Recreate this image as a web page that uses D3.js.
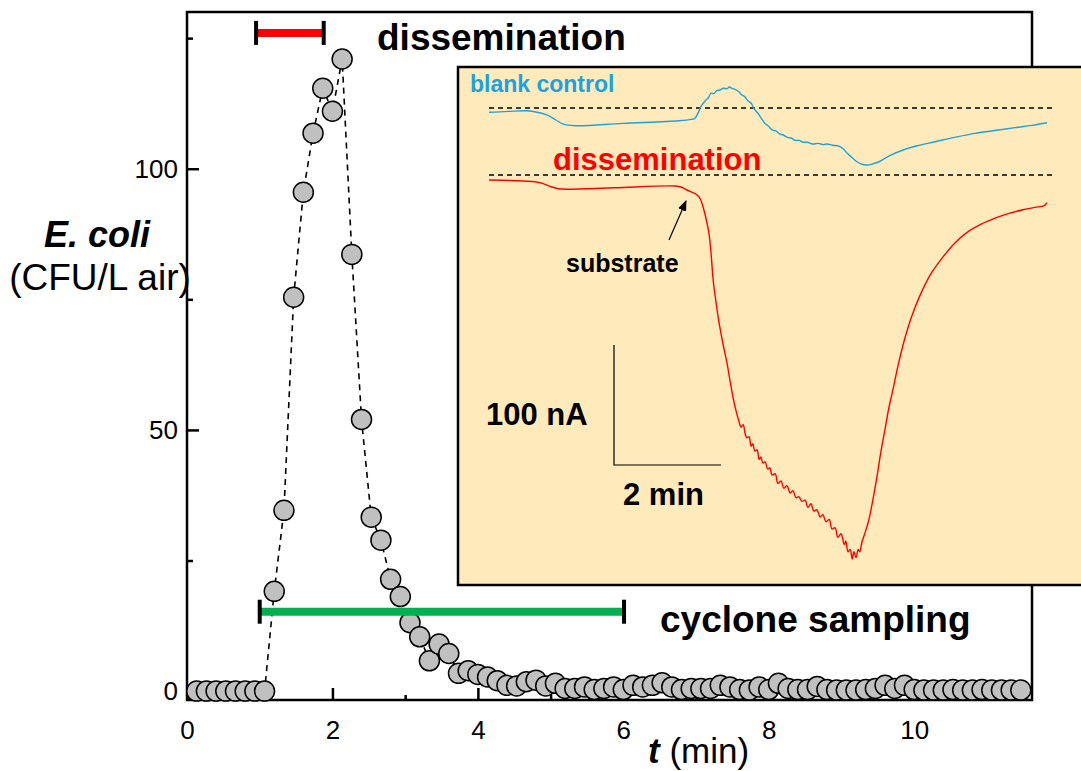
<!DOCTYPE html>
<html>
<head>
<meta charset="utf-8">
<script src="https://cdn.jsdelivr.net/npm/d3@7"></script>
<style>
  body { margin: 0; background: #fff; }
  svg { display: block; font-family: "Liberation Sans", Arial, sans-serif; }
</style>
</head>
<body>
<div id="chart"></div>
<script>
// sampling times (s) and airborne E. coli (CFU/L air)
const times = [8, 16, 24, 32, 40, 48, 56, 64, 72, 80, 88, 96, 104, 112, 120, 128, 136, 144, 152, 160,
  168, 176, 184, 192, 200, 208, 216, 224, 232, 240, 248, 256, 264, 272, 280, 288, 296, 304, 312, 320,
  328, 336, 344, 352, 360, 368, 376, 384, 392, 400, 408, 416, 424, 432, 440, 448, 456, 464, 472, 480,
  488, 496, 504, 512, 520, 528, 536, 544, 552, 560, 568, 576, 584, 592, 600, 608, 616, 624, 632, 640,
  648, 656, 664, 672, 680, 688];
const counts = [0, 0, 0, 0, 0, 0, 0, 0, 19.1, 34.6, 75.4, 95.5, 106.8, 115.4, 111, 121, 83.6, 52, 33.3, 28.9,
  21.4, 18.1, 13.1, 10.4, 5.8, 9.0, 7.2, 3.4, 3.9, 3.2, 2.7, 2.0, 1.1, 1.0, 1.8, 2.1, 1.0, 1.5, 0.5, 0.5,
  0.8, 0.3, 0.5, 0.8, 0.3, 1.1, 0.8, 1.1, 1.6, 0.8, 0.3, 0.5, 0.5, 0.5, 1.1, 0.8, 0.3, 0.2, 0.8, 0.3,
  1.5, 0.5, 0.3, 0.3, 0.9, 0.3, 0.2, 0.2, 0.2, 0.3, 0.5, 1.1, 0.5, 1.1, 0.3, 0.2, 0.2, 0.2, 0.3, 0.2,
  0.2, 0.3, 0.2, 0.2, 0.2, 0.2];

const xTicks = [0, 2, 4, 6, 8, 10];
const xMinor = [1, 3, 5, 7, 9, 11];
const yTicks = [0, 50, 100];
const yMinor = [25, 75, 125];

// time windows (min)
const dissemination = [0.95, 1.88];
const cycloneSampling = [1.0, 6.01];

// inset amperometric traces: [min, nA] relative to each dashed baseline
const blankTrace = [[0, -3.6], [0.35, -2.8], [0.71, -2.3], [0.9, -3.5], [1.08, -5.8], [1.25, -10], [1.38, -13.3],
  [1.61, -14.8], [2.5, -12.8], [3.55, -10.6], [3.78, -9.5], [3.85, -8.6], [3.92, -3], [3.96, 1.1], [4.05, 6.5],
  [4.1, 8.5], [4.15, 12.3], [4.2, 12], [4.26, 14.5], [4.32, 15], [4.38, 16.5], [4.45, 16], [4.49, 17.5],
  [4.55, 16.2], [4.6, 15.5], [4.67, 13.6], [4.72, 11], [4.78, 9.5], [4.84, 6], [4.9, 3.9], [4.96, -1],
  [5.02, -4], [5.08, -8], [5.16, -12.8], [5.22, -15], [5.3, -18.5], [5.36, -19], [5.43, -21.5], [5.5, -22.5],
  [5.58, -24.5], [5.65, -25], [5.72, -27], [5.8, -27], [5.87, -28.5], [5.95, -28.5], [6.05, -30], [6.15, -29.5],
  [6.25, -30.5], [6.32, -30], [6.42, -31], [6.54, -31.7], [6.62, -34], [6.7, -38], [6.77, -40.6], [6.85, -44],
  [6.95, -46.5], [7.07, -47.5], [7.18, -46.5], [7.29, -44.8], [7.5, -39.5], [7.74, -35], [8.0, -31.5],
  [8.34, -28.1], [8.7, -24.5], [9.08, -21.1], [9.45, -18.8], [9.83, -16.4], [10.15, -14.5], [10.43, -12.3]];
const dissTrace = [[0, -4.2], [0.4, -4.6], [0.86, -5.6], [1.0, -7], [1.16, -9.8], [1.3, -11.5], [1.46, -11.9],
  [2.36, -10.6], [3.48, -9.2], [3.6, -10.2], [3.7, -12.5], [3.8, -14.5], [3.89, -16.7], [3.95, -20], [4.0, -26.4],
  [4.05, -35], [4.11, -48.3], [4.15, -65], [4.19, -87.5], [4.24, -105], [4.3, -123], [4.37, -140], [4.45, -157],
  [4.5, -170], [4.56, -185], [4.62, -197], [4.67, -205], [4.71, -210], [4.75, -208], [4.79, -216], [4.82, -219],
  [4.86, -218], [4.90, -226], [4.93, -224], [4.97, -230], [5.01, -229], [5.05, -237], [5.08, -235], [5.12, -240],
  [5.16, -239], [5.21, -245], [5.25, -244], [5.29, -250], [5.35, -249], [5.40, -257], [5.46, -255], [5.51, -261],
  [5.57, -259], [5.63, -265], [5.68, -263], [5.74, -269], [5.79, -268], [5.85, -272], [5.91, -271], [5.96, -277],
  [6.02, -274], [6.07, -280], [6.13, -279], [6.19, -285], [6.24, -283], [6.30, -289], [6.36, -287], [6.41, -295],
  [6.47, -294], [6.52, -302], [6.58, -299], [6.64, -308], [6.67, -305], [6.71, -314], [6.75, -312], [6.79, -320],
  [6.82, -314], [6.86, -319], [6.90, -312], [6.93, -314], [6.97, -306], [7.03, -298], [7.1, -287.5], [7.17, -272],
  [7.25, -252], [7.32, -232], [7.4, -212.5], [7.47, -195], [7.55, -179], [7.66, -156], [7.78, -135], [7.9, -118],
  [8.04, -102], [8.25, -83], [8.49, -68], [8.7, -57], [8.93, -48], [9.2, -41], [9.46, -36], [9.72, -32],
  [9.98, -29], [10.2, -27], [10.38, -25.5], [10.43, -23]];

const W = 1081, H = 771;
const plot = { left: 187, right: 1032, top: 12, bottom: 700 };

const svg = d3.select("#chart").append("svg")
  .attr("width", W)
  .attr("height", H);

const x = d3.scaleLinear().domain([0, 11.62]).range([plot.left, plot.right]);
const y = d3.scaleLinear().domain([-1.7, 130]).range([plot.bottom, plot.top]);

function txt(g, px, py, s, size, opts = {}) {
  return g.append("text")
    .attr("x", px).attr("y", py)
    .attr("font-size", size)
    .attr("font-weight", opts.bold ? "bold" : null)
    .attr("font-style", opts.italic ? "italic" : null)
    .attr("fill", opts.color || "#000")
    .attr("text-anchor", opts.anchor || "start")
    .text(s);
}

// axes, ticks point inwards
const gx = svg.append("g").attr("transform", `translate(0,${plot.bottom})`);
gx.call(d3.axisBottom(x).tickValues(xTicks).tickSize(-12).tickSizeOuter(0).tickPadding(21));
gx.append("g").call(d3.axisBottom(x).tickValues(xMinor).tickSize(-5).tickSizeOuter(0).tickFormat(""));
const gy = svg.append("g").attr("transform", `translate(${plot.left},0)`);
gy.call(d3.axisLeft(y).tickValues(yTicks).tickSize(-12).tickSizeOuter(0).tickPadding(9));
gy.append("g").call(d3.axisLeft(y).tickValues(yMinor).tickSize(-6).tickSizeOuter(0).tickFormat(""));
svg.selectAll(".domain").remove();
svg.selectAll(".tick line").attr("stroke", "#000").attr("stroke-width", 2.5);
svg.selectAll(".tick text")
  .attr("font-size", 26)
  .attr("font-family", "Liberation Sans, Arial, sans-serif")
  .attr("fill", "#000");

svg.append("rect")
  .attr("x", plot.left).attr("y", plot.top)
  .attr("width", plot.right - plot.left).attr("height", plot.bottom - plot.top)
  .attr("fill", "none").attr("stroke", "#000").attr("stroke-width", 2.5);

// axis titles
txt(svg, 97, 247, "E. coli", 36, { bold: true, italic: true, anchor: "middle" });
txt(svg, 100, 290, "(CFU/L air)", 37, { anchor: "middle" });
const xt = svg.append("text").attr("x", 648).attr("y", 763).attr("font-size", 35);
xt.append("tspan").attr("font-weight", "bold").attr("font-style", "italic").text("t");
xt.append("tspan").text(" (min)");

// data
const pts = times.map((t, i) => ({ t: t / 60, v: counts[i] }));
svg.append("path")
  .datum(pts)
  .attr("fill", "none")
  .attr("stroke", "#000")
  .attr("stroke-width", 1.6)
  .attr("stroke-dasharray", "6,5")
  .attr("d", d3.line().x(d => x(d.t)).y(d => y(d.v)));

svg.append("g").selectAll("circle")
  .data(pts)
  .join("circle")
  .attr("cx", d => x(d.t))
  .attr("cy", d => y(d.v))
  .attr("r", 10)
  .attr("fill", "#c0c0c0")
  .attr("stroke", "#000")
  .attr("stroke-width", 1.5);

// time window bars
function windowBar(range, level, color) {
  const g = svg.append("g");
  g.append("line")
    .attr("x1", x(range[0])).attr("x2", x(range[1]))
    .attr("y1", y(level)).attr("y2", y(level))
    .attr("stroke", color).attr("stroke-width", 8);
  g.selectAll("rect").data(range).join("rect")
    .attr("x", d => x(d) - 2).attr("y", y(level) - 12)
    .attr("width", 4).attr("height", 24)
    .attr("fill", "#000");
}
windowBar(dissemination, 126, "#ff0000");
windowBar(cycloneSampling, 15.2, "#00b050");
txt(svg, 377, 50, "dissemination", 37, { bold: true });
txt(svg, 660, 632, "cyclone sampling", 37, { bold: true });

// inset
const inset = svg.append("g");
inset.append("rect")
  .attr("x", 458).attr("y", 67)
  .attr("width", 660).attr("height", 518)
  .attr("fill", "#ffeabc")
  .attr("stroke", "#000").attr("stroke-width", 2.5);

const ix = d3.scaleLinear().domain([0, 2]).range([489, 596]);
const iyBlank = d3.scaleLinear().domain([0, -100]).range([108, 228]);
const iyDiss = d3.scaleLinear().domain([0, -100]).range([175, 295]);

[iyBlank, iyDiss].forEach(sc => {
  inset.append("line")
    .attr("x1", ix(0)).attr("x2", ix(10.54))
    .attr("y1", sc(0)).attr("y2", sc(0))
    .attr("stroke", "#000").attr("stroke-width", 1.5)
    .attr("stroke-dasharray", "5,4");
});

inset.append("path")
  .datum(blankTrace)
  .attr("fill", "none").attr("stroke", "#1ba3e0").attr("stroke-width", 1.4)
  .attr("d", d3.line().x(d => ix(d[0])).y(d => iyBlank(d[1])).curve(d3.curveCatmullRom));
inset.append("path")
  .datum(dissTrace)
  .attr("fill", "none").attr("stroke", "#ff0000").attr("stroke-width", 1.4)
  .attr("d", d3.line().x(d => ix(d[0])).y(d => iyDiss(d[1])).curve(d3.curveCatmullRom));

txt(inset, 470, 92, "blank control", 23, { bold: true, color: "#1ba3e0" });
txt(inset, 553, 170, "dissemination", 31, { bold: true, color: "#ff0000" });
txt(inset, 566, 272, "substrate", 25, { bold: true });

svg.append("defs").append("marker")
  .attr("id", "head")
  .attr("viewBox", "0 0 10 10")
  .attr("refX", 9).attr("refY", 5)
  .attr("markerWidth", 9).attr("markerHeight", 9)
  .attr("orient", "auto")
  .append("path").attr("d", "M0,1L10,5L0,9Z").attr("fill", "#000");
inset.append("line")
  .attr("x1", 669).attr("y1", 240)
  .attr("x2", 686).attr("y2", 201)
  .attr("stroke", "#000").attr("stroke-width", 1.2)
  .attr("marker-end", "url(#head)");

// scale bar: 100 nA x 2 min
const bx = 614, by = 465;
inset.append("path")
  .attr("d", `M${bx},${by - (iyDiss(-100) - iyDiss(0))}V${by}H${bx + ix(2) - ix(0)}`)
  .attr("fill", "none").attr("stroke", "#000").attr("stroke-width", 1.2);
txt(inset, 486, 425, "100 nA", 31, { bold: true });
txt(inset, 623, 505, "2 min", 31, { bold: true });
</script>
</body>
</html>
